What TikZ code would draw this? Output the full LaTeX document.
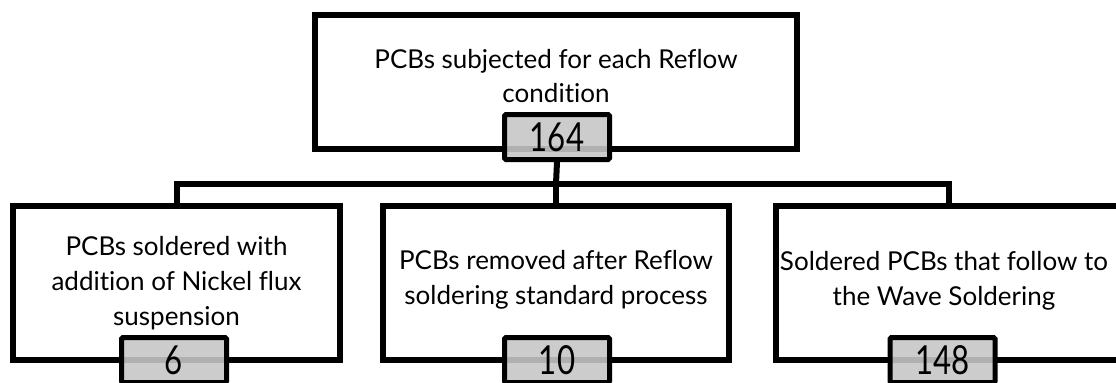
\documentclass[tikz,border=0pt]{standalone}
\usepackage{fontspec}
\setmainfont{Lato}[Ligatures=NoCommon]
\begin{document}
\begin{tikzpicture}[x=0.75pt,y=-0.75pt,
  frame/.style={draw=black,line width=4.5pt,fill=white,inner sep=0pt},
  label/.style={align=center,font=\fontsize{19.5}{26}\selectfont,inner sep=0pt},
  count/.style={draw=black,line width=3.75pt,
    fill={rgb,255:red,198;green,198;blue,198},fill opacity=0.89,text opacity=1,
    minimum width=78.75pt,minimum height=33.75pt,inner sep=0pt,rounded corners=1pt,
    font=\fontsize{30}{30}\selectfont},
  link/.style={draw=black,line width=4.5pt}]
\useasboundingbox (0,0) rectangle (1116,382);
\clip (0,0) rectangle (1116,382);

\coordinate (hub) at (556,183.5);

% outer boxes
\node[frame,minimum width=361.5pt,minimum height=100.5pt] (top) at (556,82) {};
\node[frame,minimum width=245.25pt,minimum height=115.5pt] (left) at (176.5,283) {};
\node[frame,minimum width=259.5pt,minimum height=115.5pt] (mid) at (556,283) {};
\node[frame,minimum width=259.5pt,minimum height=115.5pt] (right) at (949,283) {};

% texts of the boxes
\node[label] (toptext) at (556,76) {PCBs subjected for each Reflow\\condition};
\node[label] (lefttext) at (176.5,283) {PCBs soldered with\\addition of Nickel flux\\suspension};
\node[label] (midtext) at (556,280) {PCBs removed after Reflow\\soldering standard process};
\node[label] (righttext) at (944,281) {Soldered PCBs that follow to\\the Wave Soldering};

% count badges
\node[count] (ntop) at (557,137) {\scalebox{0.78}[1]{164}};
\node[count] (nleft) at (174,360) {\scalebox{0.78}[1]{6}};
\node[count] (nmid) at (557,360) {\scalebox{0.78}[1]{10}};
\node[count] (nright) at (942.5,360) {\scalebox{0.78}[1]{148}};

% branches
\draw[link] (ntop.south) -- (hub);
\draw[link] (left.north) |- (hub) -| (right.north);
\draw[link] (hub) -- (mid.north);
\end{tikzpicture}
\end{document}
